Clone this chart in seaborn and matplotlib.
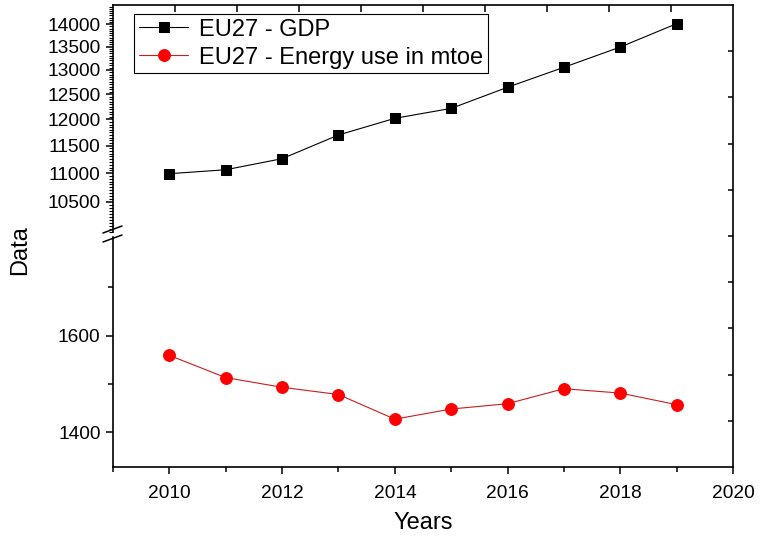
import numpy as np
import matplotlib
matplotlib.use("Agg")
import matplotlib.pyplot as plt
import seaborn as sns
from matplotlib.ticker import FixedLocator, MultipleLocator, NullFormatter, FuncFormatter
from matplotlib.lines import Line2D

# values
years = [2010, 2011, 2012, 2013, 2014, 2015, 2016, 2017, 2018, 2019]
gdp = [10990, 11060, 11260, 11700, 12020, 12215, 12640, 13055, 13490, 14010]
energy = [1559, 1513, 1493, 1478, 1427, 1448, 1459, 1490, 1481, 1457]
gdp_ticks = [10500, 11000, 11500, 12000, 12500, 13000, 13500, 14000]
energy_ticks = [1400, 1600]
energy_minor = [1500, 1700]
year_ticks = [2010, 2012, 2014, 2016, 2018, 2020]
year_minor = [2009, 2011, 2013, 2015, 2017, 2019]

sns.set_style("ticks")
plt.rcParams['font.family'] = ['Liberation Sans', 'DejaVu Sans']
plt.rcParams.update({'text.color': 'black', 'axes.labelcolor': 'black',
                     'xtick.color': 'black', 'ytick.color': 'black',
                     'axes.edgecolor': 'black'})

W, H = 762, 541


def fx(px):
    return px / W


def fy(py):
    return 1 - py / H


# pixel layout of the plot frame
left, right, top, bottom = 113, 733, 5, 467
brk_top, brk_bot = 232, 237
lw = 1.2

fig = plt.figure(figsize=(7.62, 5.41), dpi=100)

# frame with the inward top / right ticks
ax_bg = fig.add_axes([fx(left), fy(bottom), (right - left) / W, (bottom - top) / H])
ax_bg.set_xlim(0, 1)
ax_bg.set_ylim(0, 1)
ax_bg.set_xticks(np.arange(1, 10) / 10)
ax_bg.set_yticks(np.arange(1, 10) / 10)
ax_bg.tick_params(axis='x', bottom=False, top=True, labelbottom=False, direction='in', length=5, width=1.1)
ax_bg.tick_params(axis='y', left=False, right=True, labelleft=False, direction='in', length=3.8, width=1.1)
for s in ['left', 'bottom']:
    ax_bg.spines[s].set_visible(False)
for s in ['top', 'right']:
    ax_bg.spines[s].set_linewidth(lw)

# upper segment: GDP, log scale
ax_up = fig.add_axes([fx(left), fy(brk_top), (right - left) / W, (brk_top - top) / H], facecolor='none')
sns.lineplot(x=years, y=gdp, ax=ax_up, color='black', marker='s', markersize=7.5,
             markeredgecolor='black', linewidth=0.8, legend=False)
ax_up.set_yscale('log')
ax_up.set_ylim(10000, 14440)
ax_up.set_xlim(2009, 2020)
ax_up.yaxis.set_major_locator(FixedLocator(gdp_ticks))
ax_up.yaxis.set_major_formatter(FuncFormatter(lambda v, _: f"{v:.0f}"))
ax_up.yaxis.set_minor_locator(MultipleLocator(50))
ax_up.yaxis.set_minor_formatter(NullFormatter())
ax_up.set_xticks([])
ax_up.tick_params(axis='y', which='major', length=5, width=1.1, pad=4, labelsize=13.8)
ax_up.tick_params(axis='y', which='minor', length=3, width=0.8)
for s in ['top', 'right', 'bottom']:
    ax_up.spines[s].set_visible(False)
ax_up.spines['left'].set_linewidth(lw)
ax_up.set_xlabel('')
ax_up.set_ylabel('')

# lower segment: energy use
ax_lo = fig.add_axes([fx(left), fy(bottom), (right - left) / W, (bottom - brk_bot) / H], facecolor='none')
sns.lineplot(x=years, y=energy, ax=ax_lo, color='#c81e1e', marker='o', markersize=8.5,
             markerfacecolor='red', markeredgecolor='red', linewidth=0.8, legend=False)
ax_lo.set_ylim(1328, 1804)
ax_lo.set_xlim(2009, 2020)
ax_lo.yaxis.set_major_locator(FixedLocator(energy_ticks))
ax_lo.yaxis.set_minor_locator(FixedLocator(energy_minor))
ax_lo.xaxis.set_major_locator(FixedLocator(year_ticks))
ax_lo.xaxis.set_minor_locator(FixedLocator(year_minor))
ax_lo.tick_params(axis='y', which='major', length=5, width=1.1, pad=4, labelsize=13.8)
ax_lo.tick_params(axis='x', which='major', length=5, width=1.1, pad=8, labelsize=13.8)
ax_lo.tick_params(axis='both', which='minor', length=3.5, width=1.1)
for s in ['top', 'right']:
    ax_lo.spines[s].set_visible(False)
for s in ['left', 'bottom']:
    ax_lo.spines[s].set_linewidth(lw)
ax_lo.set_xlabel('')
ax_lo.set_ylabel('')

# axis break marks
for y0 in (233, 242):
    fig.add_artist(Line2D([fx(103), fx(122)], [fy(y0), fy(y0 - 7)], color='black', linewidth=1.1))

fig.text(fx(20), fy(250), 'Data', rotation=90, ha='center', va='center', fontsize=17)
fig.text(fx(423), fy(523), 'Years', ha='center', va='center', fontsize=17)

handles = [ax_up.lines[0], ax_lo.lines[0]]
labels = ['EU27 - GDP', 'EU27 - Energy use in mtoe']
leg = fig.legend(handles, labels, loc='upper left', bbox_to_anchor=(fx(134), fy(14)),
                 frameon=True, fancybox=False, edgecolor='black', framealpha=1,
                 fontsize=17, handlelength=2.1, handletextpad=0.45, borderpad=0.2,
                 labelspacing=0.25, borderaxespad=0)
leg.get_frame().set_linewidth(0.8)

fig.savefig('out.png', dpi=100)
